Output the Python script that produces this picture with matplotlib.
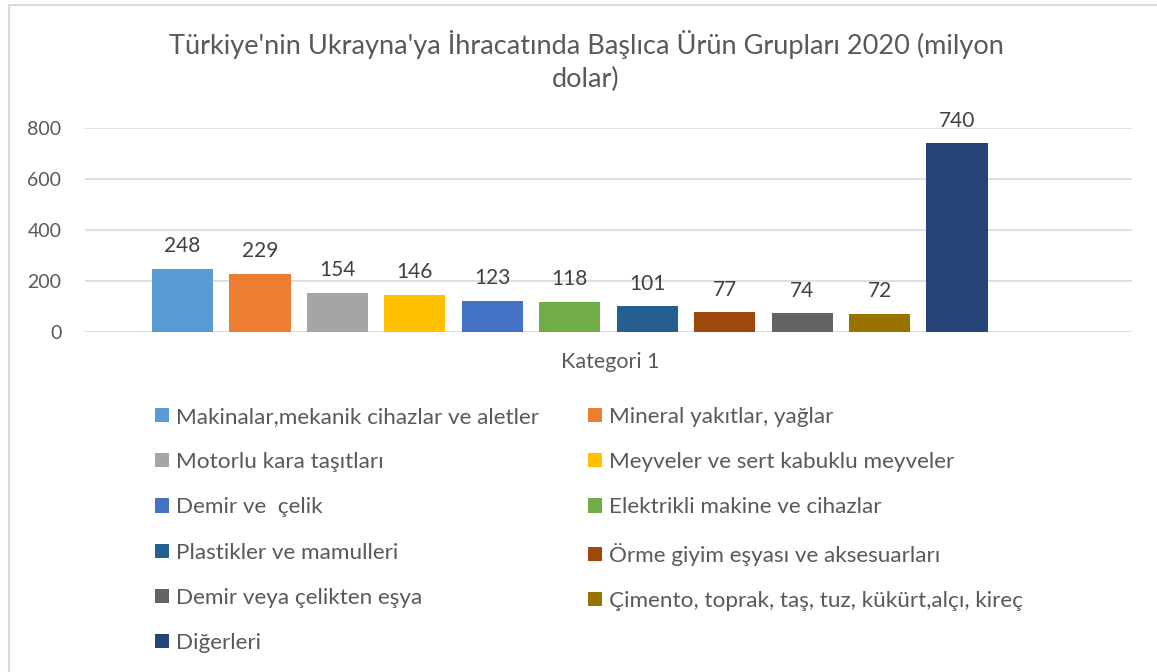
import matplotlib
matplotlib.use('Agg')
import matplotlib.pyplot as plt
from matplotlib.lines import Line2D
from matplotlib.patches import Patch

plt.rcParams['font.family'] = ['Lato', 'DejaVu Sans']

title = "Türkiye'nin Ukrayna'ya İhracatında Başlıca Ürün Grupları 2020 (milyon\ndolar)"
categories = [
    "Makinalar,mekanik cihazlar ve aletler",
    "Mineral yakıtlar, yağlar",
    "Motorlu kara taşıtları",
    "Meyveler ve sert kabuklu meyveler",
    "Demir ve  çelik",
    "Elektrikli makine ve cihazlar",
    "Plastikler ve mamulleri",
    "Örme giyim eşyası ve aksesuarları",
    "Demir veya çelikten eşya",
    "Çimento, toprak, taş, tuz, kükürt,alçı, kireç",
    "Diğerleri",
]
values = [248, 229, 154, 146, 123, 118, 101, 77, 74, 72, 740]
colors = ['#5b9bd5', '#ed7d31', '#a5a5a5', '#ffc000', '#4472c4', '#70ad47',
          '#255e91', '#9e480e', '#636363', '#997300', '#264478']
yticks = [0, 200, 400, 600, 800]
xlabel = "Kategori 1"

W, H = 1157, 672
fig = plt.figure(figsize=(W / 100, H / 100), dpi=100)
ax = fig.add_axes([85 / W, (H - 332) / H, (1132 - 85) / W, 204 / H])

txt = '#595959'
for i, (v, c) in enumerate(zip(values, colors)):
    ax.bar(i, v, width=0.79, color=c, zorder=3)
    ax.annotate(str(v), (i, v), xytext=(0, 9), textcoords='offset points',
                ha='center', va='bottom', fontsize=15, color='#404040')

ax.set_xlim(-1.26, 12.26)
ax.set_ylim(0, 800)
ax.set_yticks(yticks)
ax.set_yticklabels([str(t) for t in yticks], fontsize=14, color=txt)
ax.set_xticks([])
ax.tick_params(axis='y', length=0, pad=17)
ax.grid(axis='y', color='#d9d9d9', linewidth=1.2, zorder=0)
for s in ax.spines.values():
    s.set_visible(False)

fig.text(610 / W, 1 - 362 / H, xlabel, ha='center', va='center', fontsize=15.5, color=txt)
fig.text(586 / W, 1 - 61 / H, title, ha='center', va='center', fontsize=19.5,
         color=txt, linespacing=1.36)

# legend, two columns filled row by row
order = list(range(0, len(categories), 2)) + list(range(1, len(categories), 2))
handles = [Patch(facecolor=colors[k], edgecolor='none') for k in order]
labels = [categories[k] for k in order]
leg = fig.legend(handles, labels, ncol=2, loc='upper left',
                 bbox_to_anchor=(155 / W, 1 - 407 / H), frameon=False,
                 borderpad=0, borderaxespad=0,
                 fontsize=16.2, labelcolor=txt, handlelength=0.6, handleheight=0.6,
                 handletextpad=0.32, columnspacing=2.2, labelspacing=1.12)

# chart border
fig.add_artist(Line2D([8.5 / W, 1], [1 - 4.5 / H, 1 - 4.5 / H], color='#d9d9d9', lw=1.5))
fig.add_artist(Line2D([8.5 / W, 8.5 / W], [0, 1 - 4.5 / H], color='#d9d9d9', lw=1.5))

fig.savefig('out.png', dpi=100)
